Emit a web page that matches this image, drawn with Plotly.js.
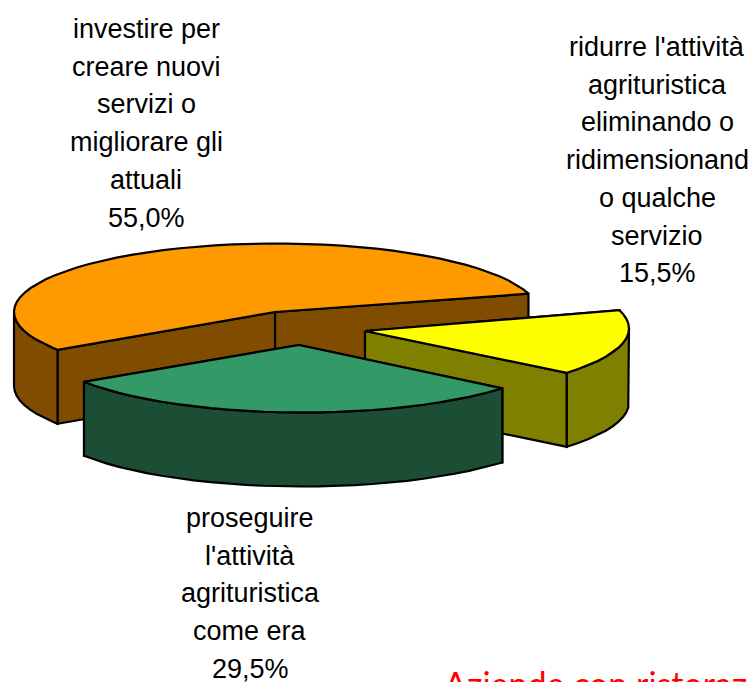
<!DOCTYPE html>
<html>
<head>
<meta charset="utf-8">
<script src="https://cdn.plot.ly/plotly-3.0.1.min.js"></script>
<style>html,body{margin:0;padding:0;background:#fff;overflow:hidden}</style>
</head>
<body>
<div id="chart" style="width:750px;height:682px"></div>
<script>
// Data
const sliceNames = ["investire", "proseguire", "ridurre"];
const sliceValues = [55.0, 29.5, 15.5];
const labelInvestire = ["investire per", "creare nuovi", "servizi o", "migliorare gli", "attuali"];
const labelProseguire = ["proseguire", "l'attività", "agrituristica", "come era"];
const labelRidurre = ["ridurre l'attività", "agrituristica", "eliminando o", "ridimensionand", "o qualche", "servizio"];
const caption = "Aziende con ristoraz";

// Appearance
const topColors = ["#FF9900", "#339966", "#FFFF00"];
const wallColors = ["#804D00", "#1C4E35", "#808000"];
const apexes = [[275, 312], [299, 345], [365, 331]];
const rimCentres = [[276, 312], [302.5, 344], [367, 328.5]];
const labelPlaces = [[146, 29], [250, 518], [657, 47]];
const labelLists = [labelInvestire, labelProseguire, labelRidurre];
const RX = 262, RY = 68.5, DEPTH = 74, START = 15.5, STEP = 4, LINE_GAP = 37.7;

const rad = d => d * Math.PI / 180;
const rim = (c, t, drop) => [c[0] + RX * Math.cos(rad(t)), c[1] - RY * Math.sin(rad(t)) + (drop || 0)];
function arc(c, a, b, drop) {
  const pts = [];
  for (let t = a; t < b; t += STEP) pts.push(rim(c, t, drop));
  pts.push(rim(c, b, drop));
  return pts;
}
function poly(pts, fill) {
  const xs = pts.map(p => p[0]), ys = pts.map(p => p[1]);
  xs.push(xs[0]); ys.push(ys[0]);
  return {
    type: "scatter", mode: "lines", x: xs, y: ys, fill: "toself", fillcolor: fill,
    line: {color: "#000", width: 2.2, shape: "linear"}, hoverinfo: "skip", showlegend: false
  };
}

const total = sliceValues.reduce((s, v) => s + v, 0);
let cursor = START;
const spans = sliceValues.map(v => {
  const a = cursor, b = cursor + v / total * 360;
  cursor = b;
  return [a, b];
});

const traces = [];
// painting order: rear slice, then right slice, then front slice
[0, 2, 1].forEach(i => {
  const apex = apexes[i], c = rimCentres[i], [a, b] = spans[i], wall = wallColors[i];
  const inner = t => {
    const p = rim(c, t);
    return poly([apex, p, [p[0], p[1] + DEPTH], [apex[0], apex[1] + DEPTH]], wall);
  };
  // inner faces: the one leaning backwards first
  const order = Math.sin(rad(a)) > Math.sin(rad(b)) ? [a, b] : [b, a];
  order.forEach(t => traces.push(inner(t)));
  // outer face: only the part of the rim in front
  for (const [lo, hi] of [[180, 360], [540, 720]]) {
    const s = Math.max(a, lo), e = Math.min(b, hi);
    if (e > s) {
      traces.push(poly(arc(c, s, e, 0).concat(arc(c, s, e, DEPTH).reverse()), wall));
    }
  }
  // top face
  traces.push(poly([apex].concat(arc(c, a, b, 0)), topColors[i]));
});

const labelFont = {family: "Liberation Sans, Arial, sans-serif", size: 27, color: "#000"};
const annotations = [];
labelLists.forEach((lines, i) => {
  const pct = sliceValues[i].toFixed(1).replace(".", ",") + "%";
  lines.concat([pct]).forEach((txt, k) => {
    annotations.push({
      xref: "x", yref: "y", x: labelPlaces[i][0], y: labelPlaces[i][1] + k * LINE_GAP,
      text: txt, showarrow: false, xanchor: "center", yanchor: "middle",
      font: labelFont, borderpad: 0
    });
  });
});
annotations.push({
  xref: "paper", yref: "paper", x: 443 / 750, y: -1 / 682, text: caption, showarrow: false,
  xanchor: "left", yanchor: "middle", borderpad: 0,
  font: {family: "Lato, Carlito, sans-serif", size: 34, color: "#FF0000"}
});

Plotly.newPlot("chart", traces, {
  width: 750, height: 682,
  margin: {l: 0, r: 0, t: 0, b: 0},
  paper_bgcolor: "#fff", plot_bgcolor: "#fff",
  showlegend: false,
  xaxis: {range: [0, 750], visible: false, fixedrange: true},
  yaxis: {range: [682, 0], visible: false, fixedrange: true},
  annotations: annotations
}, {displayModeBar: false, staticPlot: true});
</script>
</body>
</html>
